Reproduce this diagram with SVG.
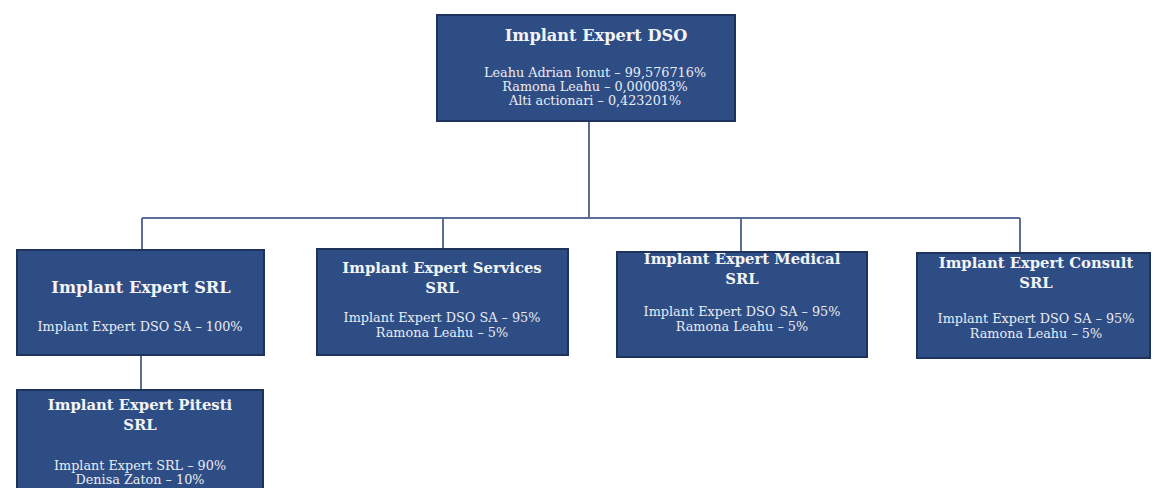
<svg xmlns="http://www.w3.org/2000/svg" width="1155" height="488" viewBox="0 0 1155 488">
<style>
.box{fill:#2f4d85;stroke:#1e335c;stroke-width:2}
.t{font-family:"DejaVu Serif","Liberation Serif",serif;font-weight:bold;font-size:14.8px;fill:#f2f4f8;text-anchor:middle}
.tl{font-size:16.2px}
.b{font-family:"DejaVu Serif","Liberation Serif",serif;font-size:12.8px;fill:#e8ecf4;text-anchor:middle}
.c{stroke:#5b6e98;stroke-width:2;fill:none}
</style>
<rect width="1155" height="488" fill="#ffffff"/>
<g id="connectors">
<path class="c" d="M589 121 V218"/>
<path class="c" d="M142 218 H1020"/>
<path class="c" d="M142 218 V250"/>
<path class="c" d="M443 218 V249"/>
<path class="c" d="M741 218 V252"/>
<path class="c" d="M1020 218 V253"/>
<path class="c" d="M141 355 V390"/>
</g>
<g id="dso">
<rect class="box" x="437" y="15" width="298" height="106"/>
<text class="t tl" x="596" y="41">Implant Expert DSO</text>
<text class="b" x="595" y="77">Leahu Adrian Ionut – 99,576716%</text>
<text class="b" x="595" y="91">Ramona Leahu – 0,000083%</text>
<text class="b" x="595" y="105">Alti actionari – 0,423201%</text>
</g>
<g id="srl">
<rect class="box" x="17" y="250" width="247" height="105"/>
<text class="t tl" x="141" y="293">Implant Expert SRL</text>
<text class="b" x="140" y="331">Implant Expert DSO SA – 100%</text>
</g>
<g id="services">
<rect class="box" x="317" y="249" width="251" height="106"/>
<text class="t" x="442" y="273">Implant Expert Services</text>
<text class="t" x="442" y="293">SRL</text>
<text class="b" x="442" y="322">Implant Expert DSO SA – 95%</text>
<text class="b" x="442" y="337">Ramona Leahu – 5%</text>
</g>
<g id="medical">
<rect class="box" x="617" y="252" width="250" height="105"/>
<text class="t" x="742" y="264">Implant Expert Medical</text>
<text class="t" x="742" y="284">SRL</text>
<text class="b" x="742" y="316">Implant Expert DSO SA – 95%</text>
<text class="b" x="742" y="331">Ramona Leahu – 5%</text>
</g>
<g id="consult">
<rect class="box" x="917" y="253" width="233" height="105"/>
<text class="t" x="1036" y="268">Implant Expert Consult</text>
<text class="t" x="1036" y="288">SRL</text>
<text class="b" x="1036" y="323">Implant Expert DSO SA – 95%</text>
<text class="b" x="1036" y="338">Ramona Leahu – 5%</text>
</g>
<g id="pitesti">
<rect class="box" x="17" y="390" width="246" height="110"/>
<text class="t" x="140" y="410">Implant Expert Pitesti</text>
<text class="t" x="140" y="430">SRL</text>
<text class="b" x="140" y="470">Implant Expert SRL – 90%</text>
<text class="b" x="140" y="484">Denisa Zaton – 10%</text>
</g>
</svg>
